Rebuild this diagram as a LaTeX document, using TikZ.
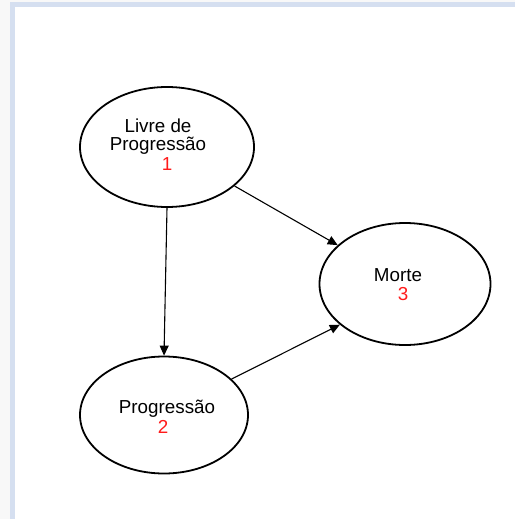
\documentclass[tikz,border=0pt]{standalone}
\usepackage{fontspec}
\setmainfont{Liberation Sans}
\usetikzlibrary{shapes.geometric,arrows.meta}
\definecolor{framecol}{HTML}{D5DFF0}
\definecolor{outside}{HTML}{F8F8F8}
\definecolor{numred}{HTML}{FF1A1A}
\tikzset{
  state/.style={ellipse, draw=black, line width=1.8pt, inner sep=0pt},
  lbl/.style={font=\fontsize{18.8}{18.5}\selectfont, text=black, inner sep=0pt, align=center},
  num/.style={font=\fontsize{18.8}{18.5}\selectfont, text=numred, inner sep=0pt},
  trans/.style={-{Triangle[length=10pt,width=9pt]}, line width=1.1pt, black}
}
\begin{document}
\begin{tikzpicture}[x=1pt,y=-1pt]
\useasboundingbox (0,0) rectangle (515,519);
\fill[outside] (0,0) rectangle (515,519);
\fill[white] (10,2) rectangle (515,519);
\fill[framecol] (10,2) rectangle (515,7);
\fill[framecol] (10,2) rectangle (15,519);

\node[state, minimum width=174pt, minimum height=120pt] (s1) at (167,147) {};
\node[state, minimum width=171pt, minimum height=122pt] (s3) at (405,284) {};
\node[state, minimum width=168pt, minimum height=117pt] (s2) at (164,415) {};

\node[lbl] (t1) at (158,136.5) {Livre de\\Progressão};
\node[num] (n1) at (167,164) {1};
\node[lbl] (t2) at (167,408.5) {Progressão};
\node[num] (n2) at (163,427) {2};
\node[lbl] (t3) at (398,275.5) {Morte};
\node[num] (n3) at (403,294) {3};

\draw[trans] (s1.south) -- (s2.north);
\draw[trans] (s1.-30) -- (s3.150);
\draw[trans] (s2.28) -- (s3.212);
\end{tikzpicture}
\end{document}
